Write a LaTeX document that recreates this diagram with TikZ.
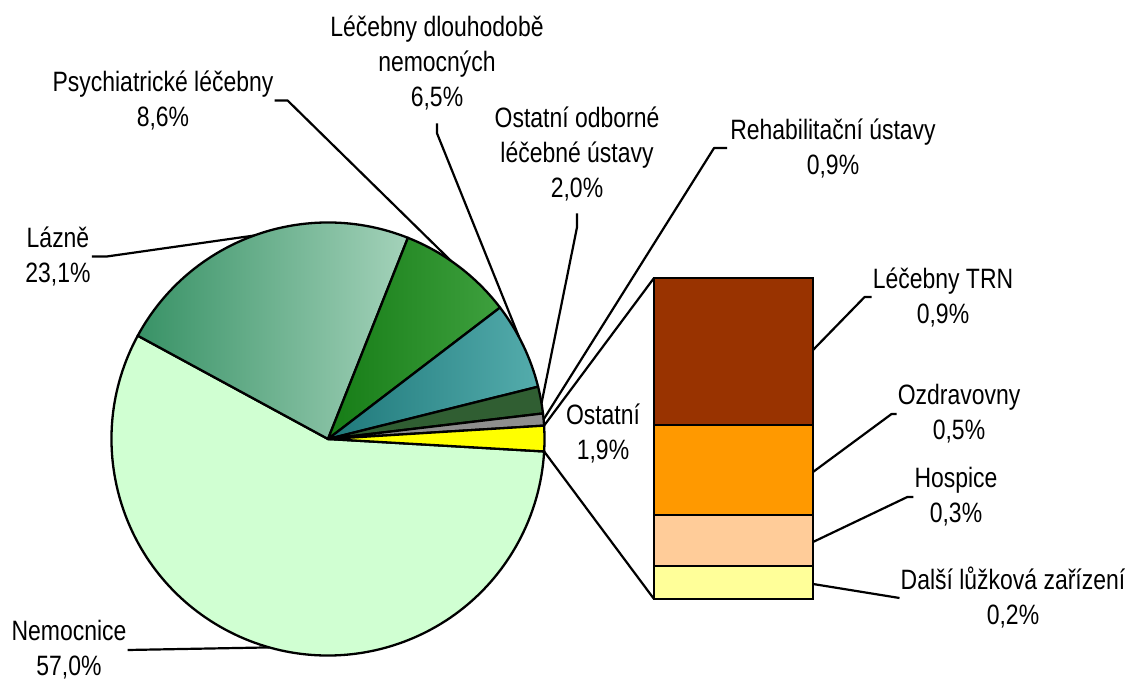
\documentclass[tikz,border=0pt]{standalone}
\usepackage{fontspec}
\setmainfont[FakeStretch=0.82]{Liberation Sans}
\usetikzlibrary{calc}
\definecolor{nemoc}{RGB}{208,255,210}
\definecolor{lazA}{RGB}{56,146,102}
\definecolor{lazB}{RGB}{164,210,186}
\definecolor{psyA}{RGB}{22,124,22}
\definecolor{psyB}{RGB}{62,160,62}
\definecolor{ldnA}{RGB}{30,120,122}
\definecolor{ldnB}{RGB}{84,172,172}
\definecolor{oodc}{RGB}{48,94,50}
\definecolor{rehc}{RGB}{142,142,142}
\definecolor{ostc}{RGB}{255,255,0}
\definecolor{trnc}{RGB}{153,51,0}
\definecolor{ozdc}{RGB}{255,153,0}
\definecolor{hosc}{RGB}{255,204,153}
\definecolor{dalc}{RGB}{255,255,153}
\begin{document}
\begin{tikzpicture}[x=1pt,y=1pt,
  lbl/.style={align=center, inner sep=1pt, font=\fontsize{28}{35}\selectfont},
  slice/.style={draw=black, line width=2.3pt, line join=round},
  leader/.style={draw=black, line width=2.2pt, line join=round},
  barseg/.style={draw=black, line width=2.8pt}]
\useasboundingbox (0,0) rectangle (1129,680);
\fill[white] (0,0) rectangle (1129,680);
\coordinate (C) at (328,241);
% pie slices
\filldraw[slice, fill=nemoc] (C) -- ($(C)+(151.5:216.5)$) arc[start angle=151.5, end angle=356.7, radius=216.5] -- cycle;
\shadedraw[slice, left color=lazA, right color=lazB] (C) -- ($(C)+(68.34:216.5)$) arc[start angle=68.34, end angle=151.5, radius=216.5] -- cycle;
\shadedraw[slice, left color=psyA, right color=psyB] (C) -- ($(C)+(37.38:216.5)$) arc[start angle=37.38, end angle=68.34, radius=216.5] -- cycle;
\shadedraw[slice, left color=ldnA, right color=ldnB] (C) -- ($(C)+(13.98:216.5)$) arc[start angle=13.98, end angle=37.38, radius=216.5] -- cycle;
\filldraw[slice, fill=oodc] (C) -- ($(C)+(6.78:216.5)$) arc[start angle=6.78, end angle=13.98, radius=216.5] -- cycle;
\filldraw[slice, fill=rehc] (C) -- ($(C)+(3.54:216.5)$) arc[start angle=3.54, end angle=6.78, radius=216.5] -- cycle;
\filldraw[slice, fill=ostc] (C) -- ($(C)+(-3.3:216.5)$) arc[start angle=-3.3, end angle=3.54, radius=216.5] -- cycle;
% points on the pie
\coordinate (aLaz) at ($(C)+(110:216.5)$);
\coordinate (aPsy) at ($(C)+(55.4:216.5)$);
\coordinate (aLdn) at ($(C)+(28:216.5)$);
\coordinate (aOod) at ($(C)+(9.5:216.5)$);
\coordinate (aReh) at ($(C)+(5.2:216.5)$);
\coordinate (aNem) at ($(C)+(254.3:216.5)$);
\coordinate (aYt) at ($(C)+(3.54:216.5)$);
\coordinate (aYb) at ($(C)+(-3.3:216.5)$);
% bar corners and leader points
\coordinate (bTL) at (654,402);
\coordinate (bBL) at (654,81);
\coordinate (rTrn) at (813,330);
\coordinate (rOzd) at (813,208);
\coordinate (rHos) at (813,138);
\coordinate (rDal) at (813,96);
% labels
\node[lbl] (psy) at (163,579.5) {Psychiatrické léčebny\\8,6\%};
\node[lbl] (laz) at (58,423.5) {Lázně\\23,1\%};
\node[lbl] (ldn) at (437,617) {Léčebny dlouhodobě\\nemocných\\6,5\%};
\node[lbl] (ood) at (577,526) {Ostatní odborné\\léčebné ústavy\\2,0\%};
\node[lbl] (reh) at (833,532) {Rehabilitační ústavy\\0,9\%};
\node[lbl] (ost) at (603,246.5) {Ostatní\\1,9\%};
\node[lbl] (trn) at (943,383) {Léčebny TRN\\0,9\%};
\node[lbl] (ozd) at (959,266) {Ozdravovny\\0,5\%};
\node[lbl] (hos) at (956,183) {Hospice\\0,3\%};
\node[lbl] (dal) at (1013,82) {Další lůžková zařízení\\0,2\%};
\node[lbl] (nem) at (69,30) {Nemocnice\\57,0\%};
% leaders
\draw[leader] (laz.east) -- ++(15,0) -- (aLaz);
\draw[leader] (psy.east) -- ++(13,0) -- (aPsy);
\draw[leader] ([yshift=-12pt]ldn.south) -- ++(0,-10) -- (aLdn);
\draw[leader] ([yshift=-11pt]ood.south) -- ++(0,-14) -- (aOod);
\draw[leader] ([xshift=-2pt]reh.west) -- ++(-13,0) -- (aReh);
\draw[leader] (nem.east) -- (aNem);
\draw[leader] (bTL) -- (aYt);
\draw[leader] (bBL) -- (aYb);
\draw[leader] (trn.west) -- ++(-7,0) -- (rTrn);
\draw[leader] (ozd.west) -- ++(-5,0) -- (rOzd);
\draw[leader] (hos.west) -- ++(-6,0) -- (rHos);
\draw[leader] (dal.west) -- (rDal);
% bar of the Ostatní slice
\filldraw[barseg, fill=trnc] (654,255) rectangle (813,402);
\filldraw[barseg, fill=ozdc] (654,165) rectangle (813,255);
\filldraw[barseg, fill=hosc] (654,114) rectangle (813,165);
\filldraw[barseg, fill=dalc] (654,81) rectangle (813,114);
\end{tikzpicture}
\end{document}
